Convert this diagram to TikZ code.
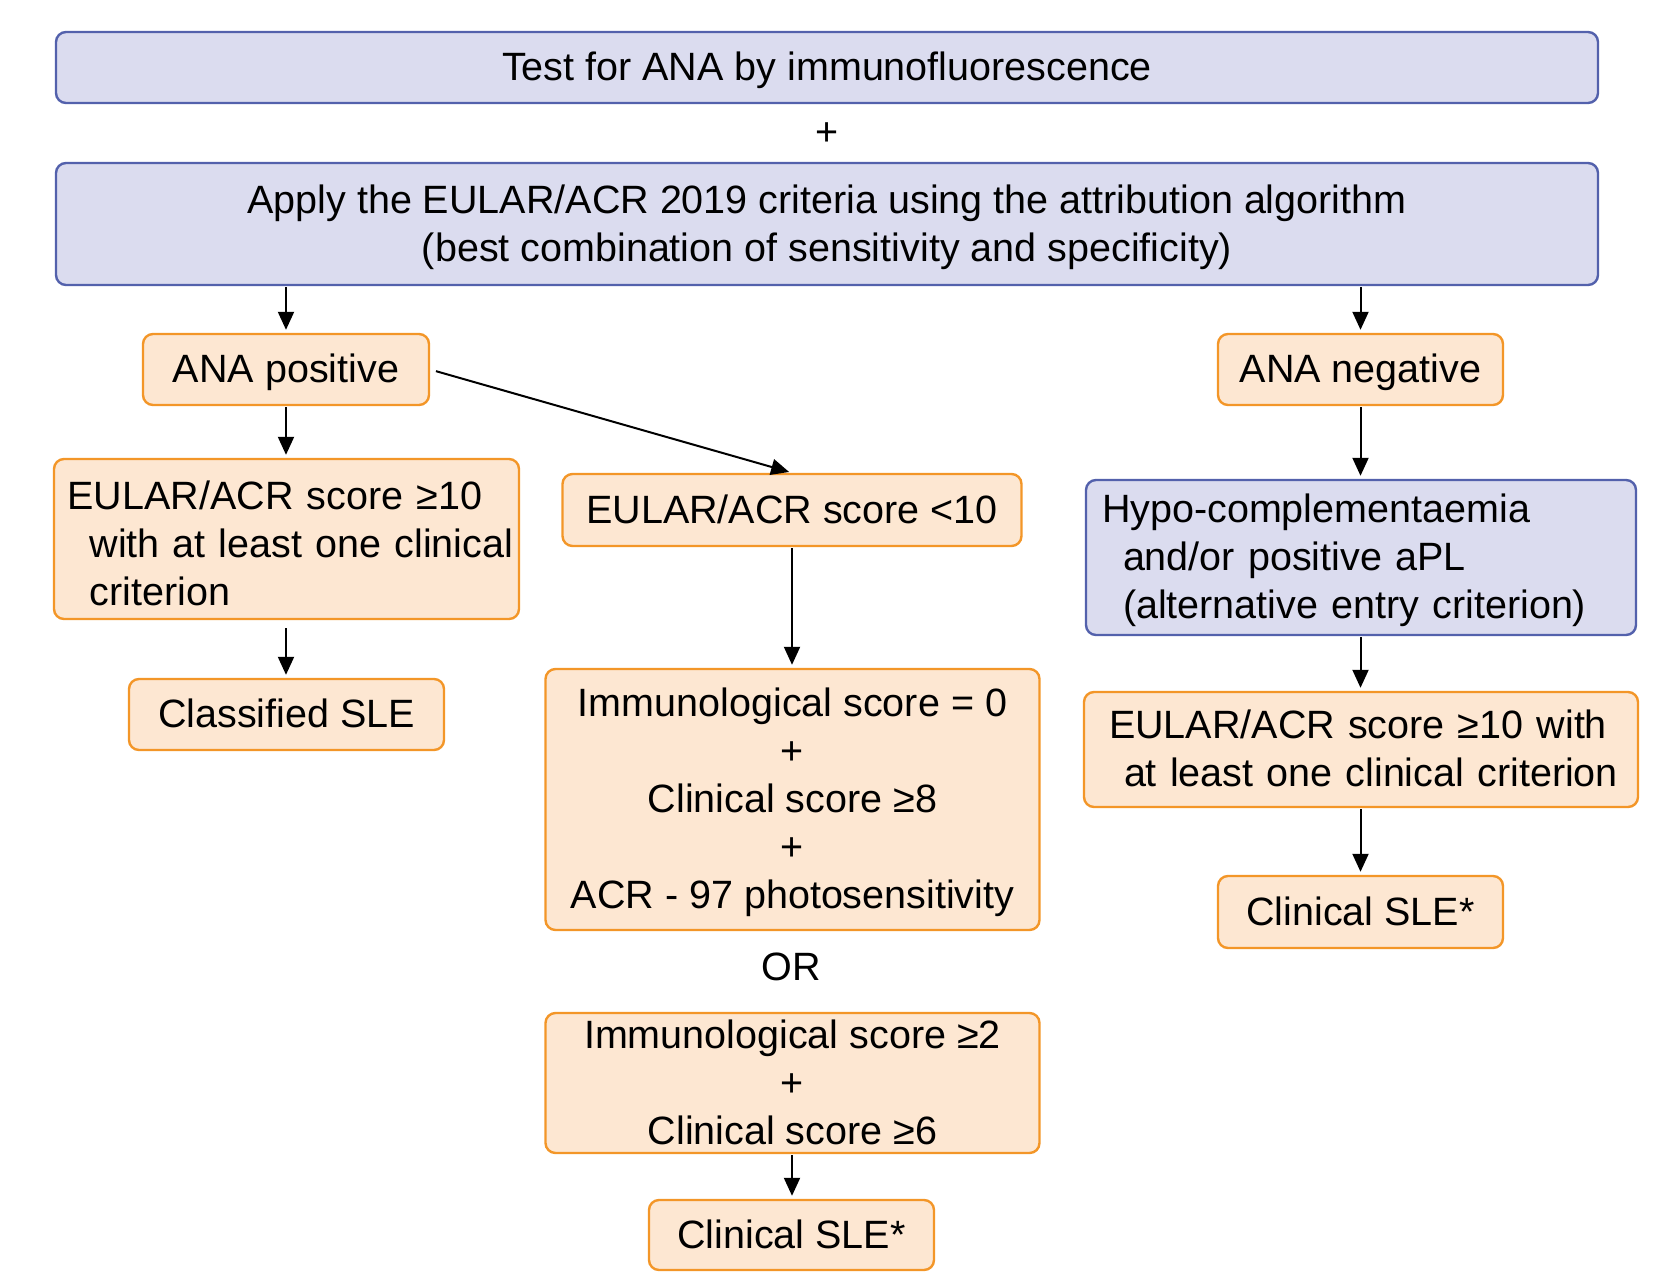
\documentclass[tikz,border=0pt]{standalone}
\usepackage{fontspec}
\setmainfont{Liberation Sans}
\usetikzlibrary{arrows.meta}
\definecolor{bfill}{RGB}{219,220,239}
\definecolor{bdraw}{RGB}{83,97,172}
\definecolor{ofill}{RGB}{253,231,210}
\definecolor{odraw}{RGB}{243,150,40}
\newcommand\topst{\rule{0pt}{17.5pt}}
\newcommand\botst{\rule[-4.2pt]{0pt}{0pt}}
\begin{document}
\begin{tikzpicture}[x=0.5pt,y=-0.5pt,
  every node/.style={font=\fontsize{19.75}{24}\selectfont, inner sep=0pt},
  oneline/.style={text height=17.5pt, text depth=4.2pt},
  bbox/.style={draw=bdraw, fill=bfill, line width=1.2pt, rounded corners=5pt},
  obox/.style={draw=odraw, fill=ofill, line width=1.2pt, rounded corners=5pt},
  arr/.style={-{Triangle[length=9pt,width=8pt]}, line width=1pt, shorten >=1.5pt, shorten <=0.5pt}]
\useasboundingbox (0,0) rectangle (1653,1284);

% top
\node[bbox, oneline, minimum width=771pt, minimum height=35.5pt] (test) at (827,67.5) {Test for ANA by immunofluorescence};
\node[oneline] (plus) at (827,132) {+};
\node[bbox, minimum width=771pt, minimum height=61pt, align=center] (apply) at (827,224)
  {\topst Apply the EULAR/ACR 2019 criteria using the attribution algorithm\\(best combination of sensitivity and specificity)\botst};

% left column
\node[obox, oneline, minimum width=143pt, minimum height=35.5pt] (anapos) at (286,369.5) {ANA positive};
\node[obox, text width=219pt, inner xsep=6.75pt, minimum height=80pt, align=left] (eulge) at (286.5,539)
  {\mbox{\rule{0pt}{22.5pt}EULAR/ACR score ≥10}\\\mbox{\hspace*{11pt}with at least one clinical}\\\mbox{\hspace*{11pt}criterion\botst}};
\node[obox, oneline, minimum width=157.5pt, minimum height=35.5pt] (classified) at (286.5,714.5) {Classified SLE};

% middle column
\node[obox, oneline, minimum width=229.5pt, minimum height=36pt] (eullt) at (792,510) {EULAR/ACR score <10};
\node[obox, minimum width=247pt, minimum height=130.5pt, align=center] (immzero) at (792.5,799.5)
  {\topst Immunological score = 0\\+\\Clinical score ≥8\\+\\ACR - 97 photosensitivity\botst};
\node[oneline] (or) at (791,967) {OR};
\node[obox, minimum width=247pt, minimum height=70pt, align=center] (immtwo) at (792.5,1083)
  {\topst Immunological score ≥2\\+\\Clinical score ≥6\botst};
\node[obox, oneline, minimum width=142.5pt, minimum height=35pt] (clinmid) at (791.5,1235) {Clinical SLE*};

% right column
\node[obox, oneline, minimum width=142.5pt, minimum height=35.5pt] (ananeg) at (1360.5,369.5) {ANA negative};
\node[bbox, text width=259pt, inner xsep=8pt, minimum height=77.5pt, align=left] (hypo) at (1361,557.5)
  {\mbox{\topst Hypo-complementaemia}\\\mbox{\hspace*{10.5pt}and/or positive aPL}\\\mbox{\hspace*{10.5pt}(alternative entry criterion)\botst}};
\node[obox, text width=252pt, inner xsep=12.5pt, minimum height=57.5pt, align=left] (eulright) at (1361,749.5)
  {\mbox{\topst EULAR/ACR score ≥10 with}\\\mbox{\hspace*{7.5pt}at least one clinical criterion\botst}};
\node[obox, oneline, minimum width=142.5pt, minimum height=36pt] (clinright) at (1360.5,912) {Clinical SLE*};

% connectors
\draw[arr] (apply.south -| anapos.north) -- (anapos.north);
\draw[arr] (apply.south -| ananeg.north) -- (ananeg.north);
\draw[arr] (anapos.south) -- (anapos.south |- eulge.north);
\draw[arr, shorten <=4pt] (eulge.south -| anapos.south) -- (anapos.south |- classified.north);
\draw[arr, shorten <=3pt] (anapos.east) -- (eullt.north);
\draw[arr] (eullt.south) -- (eullt.south |- immzero.north);
\draw[arr] (immtwo.south -| eullt.south) -- (eullt.south |- clinmid.north);
\draw[arr] (ananeg.south) -- (ananeg.south |- hypo.north);
\draw[arr] (hypo.south -| ananeg.south) -- (ananeg.south |- eulright.north);
\draw[arr] (eulright.south -| ananeg.south) -- (ananeg.south |- clinright.north);
\end{tikzpicture}
\end{document}
